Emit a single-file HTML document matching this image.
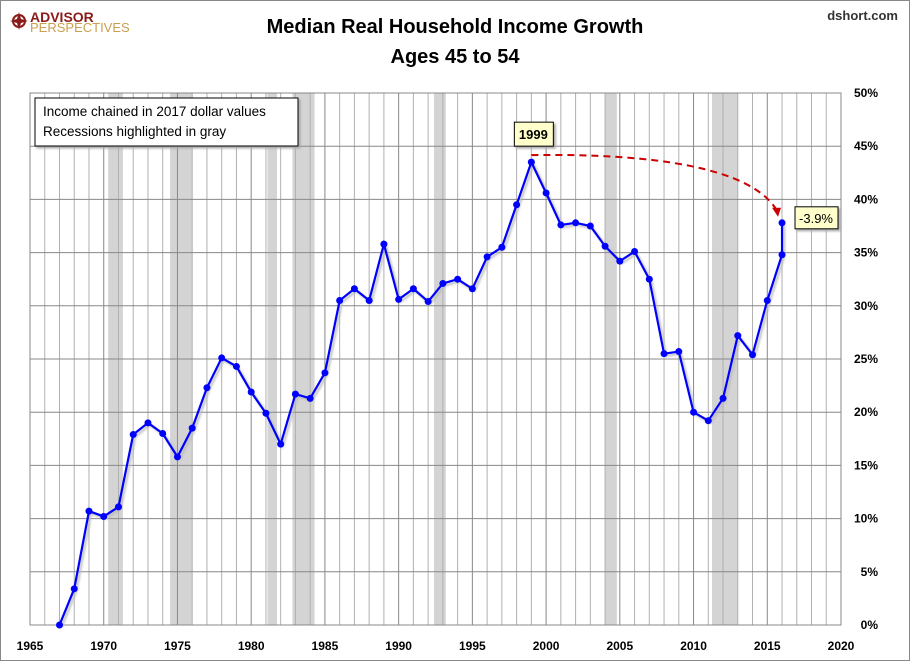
<!DOCTYPE html>
<html><head><meta charset="utf-8"><style>
body{margin:0;background:#fff}
svg text{font-family:"Liberation Sans",sans-serif}
</style></head><body>
<svg width="910" height="661" xmlns="http://www.w3.org/2000/svg">
<rect x="0.5" y="0.5" width="909" height="660" fill="#fff" stroke="#888"/>
<g>
<circle cx="19" cy="21" r="6" fill="none" stroke="#8b1a1a" stroke-width="2"/>
<path d="M19 12 L21 19 L28 21 L21 23 L19 30 L17 23 L10 21 L17 19Z" fill="#8b1a1a"/>
<text x="30" y="22" font-size="14" font-weight="bold" fill="#8b1a1a">ADVISOR</text>
<text x="30" y="32" font-size="13" fill="#c8a050">PERSPECTIVES</text>
</g>
<text x="455" y="33" font-size="20" font-weight="bold" text-anchor="middle">Median Real Household Income Growth</text>
<text x="455" y="63" font-size="20" font-weight="bold" text-anchor="middle">Ages 45 to 54</text>
<text x="898" y="20" font-size="13" font-weight="bold" text-anchor="end" fill="#333">dshort.com</text>
<g id="plot"></g>
<g>
<rect x="35" y="98" width="263" height="48" fill="#fff" stroke="#000" filter="drop-shadow(2px 2px 1px #aaa)"/>
<text x="43" y="116" font-size="13.5">Income chained in 2017 dollar values</text>
<text x="43" y="136" font-size="13.5">Recessions highlighted in gray</text>
</g>
</svg>
<script>
const years=[1967,1968,1969,1970,1971,1972,1973,1974,1975,1976,1977,1978,1979,1980,1981,1982,1983,1984,1985,1986,1987,1988,1989,1990,1991,1992,1993,1994,1995,1996,1997,1998,1999,2000,2001,2002,2003,2004,2005,2006,2007,2008,2009,2010,2011,2012,2013,2014,2015,2016,2016];
const growth=[0,3.4,10.7,10.2,11.1,17.9,19.0,18.0,15.8,18.5,22.3,25.1,24.3,21.9,19.9,17.0,21.7,21.3,23.7,30.5,31.6,30.5,35.8,30.6,31.6,30.4,32.1,32.5,31.6,34.6,35.5,39.5,43.5,40.6,37.6,37.8,37.5,35.6,34.2,35.1,32.5,25.5,25.7,20.0,19.2,21.3,27.2,25.4,30.5,34.8,37.8];
const recStart=[1970.3,1974.5,1981.1,1982.8,1992.4,2004.0,2011.25];
const recEnd=[1971.3,1976.0,1981.75,1984.3,1993.2,2004.8,2013.0];
const xTicks=[1965,1970,1975,1980,1985,1990,1995,2000,2005,2010,2015,2020];
const yTicks=[0,5,10,15,20,25,30,35,40,45,50];
const changeLabel=['-3.9%'];
const L=30,R=841,T=93,B=625;
const x=v=>L+(v-1965)*(R-L)/55, y=v=>B-v*(B-T)/50;
const NS='http://www.w3.org/2000/svg',g=document.getElementById('plot');
function mk(t,a,p){const e=document.createElementNS(NS,t);for(const k in a)e.setAttribute(k,a[k]);(p||g).appendChild(e);return e;}
for(let i=0;i<recStart.length;i++){const r=mk('rect',{x:x(recStart[i]),y:T,width:x(recEnd[i])-x(recStart[i]),height:B-T,fill:'#d4d4d4'});

}
for(let yr=1965;yr<=2020;yr++){const five=yr%5==0;const l=mk('line',{x1:x(yr),x2:x(yr),y1:T,y2:B,stroke:five?'#888':'#b0b0b0','stroke-width':1});

}
yTicks.forEach(v=>{const l=mk('line',{x1:L,x2:R,y1:y(v),y2:y(v),stroke:'#888'});


const t=mk('text',{x:878,y:y(v)+4,'font-size':12,'font-weight':'bold','text-anchor':'end'});t.textContent=v+'%';

});
xTicks.forEach(v=>{const t=mk('text',{x:x(v),y:650,'font-size':12,'font-weight':'bold','text-anchor':'middle'});t.textContent=v;

});
mk('rect',{x:L,y:T,width:R-L,height:B-T,fill:'none',stroke:'#888'});
const pts=years.map((v,i)=>x(v)+','+y(growth[i])).join(' ');
const line=mk('polyline',{points:pts,fill:'none',stroke:'#0000ff','stroke-width':2.2,filter:'drop-shadow(2px 2px 1px #bbb)'});


years.forEach((v,i)=>{const c=mk('circle',{cx:x(v),cy:y(growth[i]),r:3.5,fill:'#0000ff'});

});
const pk=growth.indexOf(Math.max(...growth)),last=growth.length-1;
const px=x(years[pk]),py=y(growth[pk]),lx=x(years[last]),ly=y(growth[last]);
const arr=mk('path',{d:`M${px} ${py-7} C ${px+120} ${py-9}, ${lx-30} ${py+5}, ${lx-5} ${ly-12}`,fill:'none',stroke:'#cc0000','stroke-width':2,'stroke-dasharray':'7 5'});


const ah=mk('path',{d:`M${lx-10} ${ly-15} L${lx-1} ${ly-15} L${lx-4} ${ly-6}Z`,fill:'#cc0000'});


const b1=mk('rect',{x:px-17,y:py-40,width:39,height:24,fill:'#ffffcc',stroke:'#000',filter:'drop-shadow(2px 2px 1px #aaa)'});


const t1=mk('text',{x:px+2,y:py-23,'font-size':13,'font-weight':'bold','text-anchor':'middle'});t1.textContent=years[pk];


const b2=mk('rect',{x:lx+13,y:ly-16,width:43,height:22,fill:'#ffffcc',stroke:'#000',filter:'drop-shadow(2px 2px 1px #aaa)'});


const t2=mk('text',{x:lx+34,y:ly,'font-size':13,'text-anchor':'middle'});t2.textContent=changeLabel[0];


</script>
</body></html>
